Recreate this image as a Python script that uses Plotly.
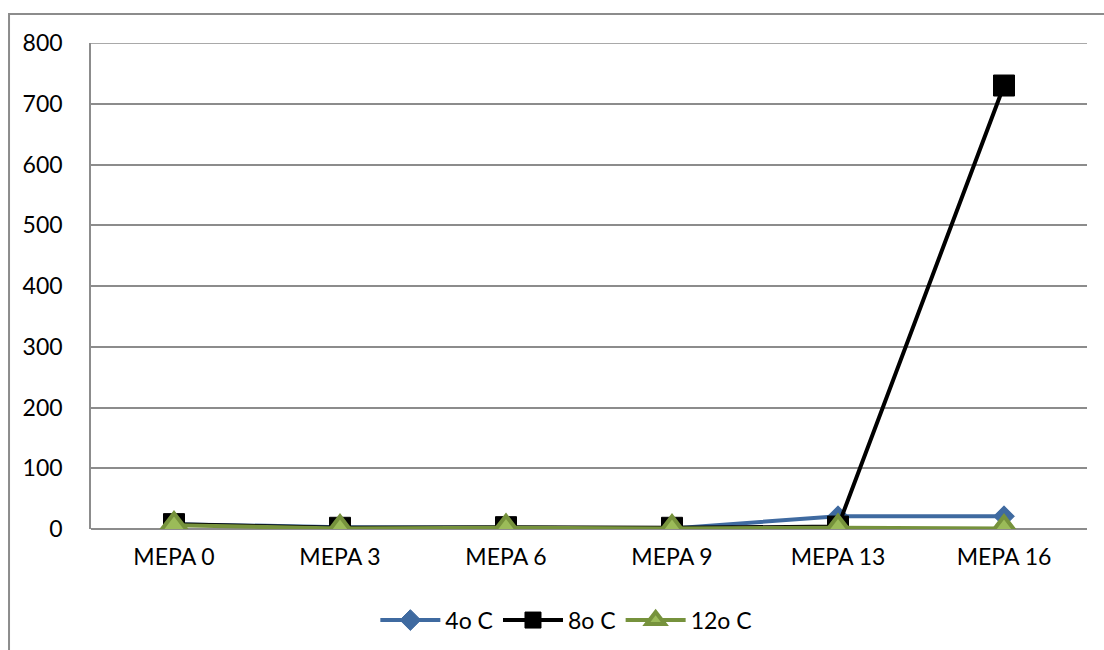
import plotly.graph_objects as go

categories = ["MEPA 0", "MEPA 3", "MEPA 6", "MEPA 9", "MEPA 13", "MEPA 16"]
temp_4 = [8, 3, 2, 1, 21, 21]
temp_8 = [8, 2, 3, 2, 4, 730]
temp_12 = [6, 1, 2, 1, 2, 1]
y_ticks = [0, 100, 200, 300, 400, 500, 600, 700, 800]

FONT = "Lato, Calibri, Carlito, sans-serif"
GRID = "#8C8C8C"

fig = go.Figure()

fig.add_trace(go.Scatter(
    x=categories, y=temp_4, name="4o C", mode="lines+markers",
    line=dict(color="#3F6AA0", width=4),
    marker=dict(symbol="diamond", size=16, color="#3F6AA0",
                line=dict(color="#3F6AA0", width=1)),
))
fig.add_trace(go.Scatter(
    x=categories, y=temp_8, name="8o C", mode="lines+markers",
    line=dict(color="#000000", width=4),
    marker=dict(symbol="square", size=21, color="#000000",
                line=dict(color="#000000", width=1)),
))
fig.add_trace(go.Scatter(
    x=categories, y=temp_12, name="12o C", mode="lines+markers",
    line=dict(color="#76923C", width=4),
    marker=dict(symbol="triangle-up", size=24, color="#9BBB59",
                line=dict(color="#76923C", width=4)),
))

# outer chart-area frame
fig.add_shape(type="rect", xref="paper", yref="paper",
              x0=-0.0823, x1=1.06, y0=-0.3, y1=1.0597,
              line=dict(color=GRID, width=2), layer="below")
# top gridline at the axis maximum
fig.add_shape(type="line", xref="paper", yref="y",
              x0=0, x1=1, y0=y_ticks[-1], y1=y_ticks[-1],
              line=dict(color=GRID, width=1.5), layer="below")

fig.update_layout(
    width=1104, height=650,
    margin=dict(l=91, r=17, t=43, b=121, autoexpand=False),
    paper_bgcolor="white", plot_bgcolor="white",
    font=dict(family=FONT, size=23, color="#000000"),
    showlegend=True,
    legend=dict(orientation="h", x=0.513, xref="container", xanchor="center",
                y=0.046, yref="container", yanchor="middle",
                font=dict(size=23), itemwidth=60, traceorder="normal"),
    xaxis=dict(
        type="category", range=[-0.5, 5.5], showgrid=False,
        showline=False, zeroline=False, ticks="",
        ticklabelstandoff=12,
    ),
    yaxis=dict(
        range=[0, 800], tickvals=y_ticks, showgrid=True,
        gridcolor=GRID, gridwidth=1.5,
        showline=True, linecolor=GRID, linewidth=1.5,
        zeroline=True, zerolinecolor=GRID, zerolinewidth=1.5,
        ticks="", ticklabelstandoff=22,
    ),
)

fig.write_html("out.html")
